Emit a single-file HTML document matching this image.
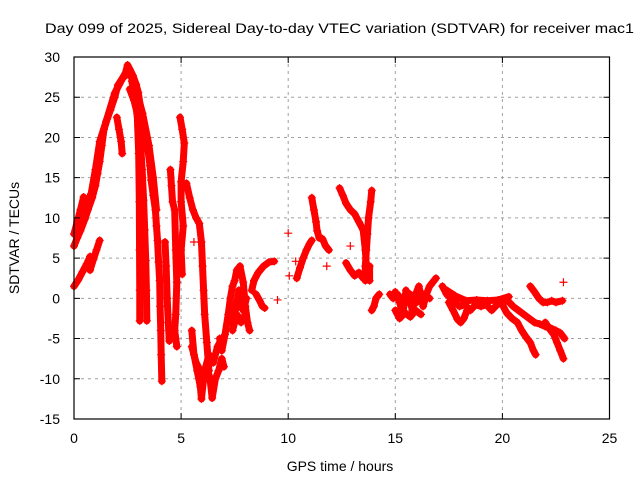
<!DOCTYPE html>
<html><head><meta charset="utf-8"><style>
html,body{margin:0;padding:0;background:#fff;}
svg{display:block;font-family:"Liberation Sans",sans-serif;}
</style></head><body>
<svg id="chart" width="640" height="480" viewBox="0 0 640 480" xmlns="http://www.w3.org/2000/svg">
<rect x="0" y="0" width="640" height="480" fill="#fff"/>
<text x="45" y="33" font-size="14" fill="#000" textLength="589" lengthAdjust="spacingAndGlyphs">Day 099 of 2025, Sidereal Day-to-day VTEC variation (SDTVAR) for receiver mac1</text>
<g id="grid"></g>
<g id="series"></g>
<g id="axes"></g>
<text x="340" y="471" font-size="14" text-anchor="middle">GPS time / hours</text>
<text transform="translate(19,238) rotate(-90)" font-size="14" text-anchor="middle">SDTVAR / TECUs</text>
</svg>
<script>
const xTicks = [0, 5, 10, 15, 20, 25];
const yTicks = [30, 25, 20, 15, 10, 5, 0, -5, -10, -15];
const xDomain = [0, 25];
const yDomain = [-15, 30];

const trackMainRise = [[0,6.5],[0.15,7.5],[0.3,8.4],[0.5,9.8],[0.65,11],[0.85,12.5],[1,14],[1.1,15.5],[1.2,17],[1.3,19],[1.4,21],[1.55,22.3],[1.7,23.4],[1.9,25],[2.05,26.5],[2.25,27.3],[2.4,28],[2.5,29],[2.6,28.5],[2.75,27.7],[2.9,26.6],[3,25.6],[3.1,23.8],[3.2,22],[3.3,20.2],[3.45,18.4],[3.55,16.5],[3.6,14.7],[3.7,12.8],[3.8,11],[3.85,9],[3.9,7.2],[3.95,4.5],[4,2.2],[4.02,-1],[4.05,-4],[4.07,-7],[4.1,-10.3]];
const trackMainRise2 = [[0.1,8],[0.4,10.5],[0.8,13],[1.0,16],[1.2,19.5],[1.5,22],[1.9,25.5],[2.3,27.5],[2.6,28],[2.9,26],[3.2,23],[3.5,19],[3.7,15],[3.85,11]];
const trackFall2 = [[2.7,27],[2.9,24],[3.0,21.5],[3.1,19.6],[3.18,16],[3.25,12.2],[3.3,8.5],[3.35,4.7],[3.38,1],[3.4,-2.8]];
const trackFall3 = [[2.6,26],[2.8,24.6],[2.95,23],[3.02,18],[3.05,12],[3.06,6],[3.07,1],[3.07,-2.8]];
const trackSide = [[2.0,22.5],[2.1,21],[2.2,19.5],[2.25,18]];
const trackLowLeft1 = [[0,1.5],[0.2,2.3],[0.4,3.3],[0.6,4.3],[0.75,5.2]];
const trackLowLeft2 = [[0.75,3.5],[0.9,4.8],[1.05,6],[1.2,7.2]];
const trackUpLeft = [[0,8],[0.15,9.5],[0.3,11],[0.45,12.6]];
const trackMid1 = [[4.25,7],[4.3,4],[4.35,0],[4.4,-3],[4.45,-5.3]];
const trackMid2 = [[4.5,16],[4.55,14],[4.6,12],[4.7,11],[4.75,6],[4.8,2],[4.75,-2],[4.7,-4],[4.8,-6]];
const trackMid3 = [[4.95,22.5],[5.05,21],[5.15,19.3],[5.1,17],[5.0,14.5],[5.0,12],[5.1,9],[5.0,6],[5.05,3]];
const trackMid4 = [[5.25,14.3],[5.4,12.5],[5.55,11],[5.7,10],[5.85,9.3],[5.95,7],[6.0,4],[6.05,1],[6.1,-2],[6.2,-5.5],[6.3,-9]];
const trackBottom = [[5.5,-4],[5.6,-7],[5.75,-9],[5.9,-11],[5.95,-12.5],[6.05,-10],[6.2,-8.5],[6.35,-10],[6.45,-12.4],[6.6,-10],[6.75,-9],[6.9,-7.5],[7.0,-8.5]];
const trackBottom2 = [[5.5,-6],[5.7,-8],[5.9,-9],[6.1,-9],[6.3,-7],[6.5,-8],[6.7,-6],[6.9,-5]];
const trackRise7 = [[6.8,-5],[6.9,-6.5],[7.05,-4.5],[7.2,-2],[7.3,0],[7.4,1.5],[7.5,2.2],[7.6,3.5],[7.75,4],[7.9,2],[8.0,-1],[8.1,-3],[8.2,-4]];
const trackRise8 = [[7.3,-3],[7.5,-1],[7.7,-0.5],[7.9,-1.5],[8.05,0]];
const trackCluster8 = [[7.4,-4],[7.6,-2],[7.8,-3],[8.0,-2],[7.7,1],[7.5,-2]];
const trackT9 = [[8.3,1],[8.4,2.2],[8.6,3.2],[8.85,4],[9.1,4.5],[9.35,4.6]];
const trackT9b = [[8.5,0.5],[8.65,-0.2],[8.8,-1],[8.9,-1.2]];
const trackT10 = [[10.4,2.5],[10.55,3.8],[10.7,5],[10.85,6],[11.0,6.8],[11.1,7.2]];
const trackT11 = [[11.1,12.5],[11.2,11],[11.3,9.5],[11.35,8.4],[11.45,7.5],[11.6,7.4],[11.75,6.5],[11.9,6]];
const trackT12 = [[12.4,13.7],[12.55,12.8],[12.7,11.8],[12.9,11],[13.1,10.5],[13.3,9.5],[13.5,8.5],[13.6,6],[13.65,4]];
const trackT12low = [[12.7,4.4],[12.9,3.5],[13.1,2.8],[13.3,3.2],[13.5,2.5],[13.8,2.2],[13.8,4]];
const trackT13col = [[13.9,13.4],[13.85,12],[13.75,10],[13.7,8],[13.65,6],[13.6,4],[13.6,2.2]];
const trackT14 = [[13.9,-1.5],[14.0,-1],[14.1,0],[14.25,0.5]];
const trackT15 = [[14.75,0.5],[14.9,0],[15.0,0.8],[15.2,-0.5],[15.35,-2],[15.5,1],[15.65,0],[15.8,-1.5],[15.95,0.5],[16.1,1.5],[16.3,-1],[16.45,0.5],[16.6,1.5],[16.75,2],[16.9,2.5]];
const trackT15b = [[15.0,-1.5],[15.2,-2.5],[15.45,-1.8],[15.7,-2.3],[15.95,-1.5],[16.2,-2]];
const trackT15c = [[15.1,0.5],[15.4,-0.5],[15.7,0.5],[16.0,-0.5],[16.3,0.5],[16.6,0]];
const trackT17 = [[17.2,1.5],[17.4,0.5],[17.6,0],[17.8,-0.5],[18.0,-1],[18.25,-0.8],[18.5,-1.5],[18.75,-0.8],[19.0,-1],[19.25,-0.8],[19.5,-1.5],[19.75,-0.8],[20.0,-0.5],[20.25,-0.3],[20.5,-1],[20.75,-1.5],[21.0,-2],[21.25,-2.5],[21.5,-3],[21.75,-3.2],[22.0,-3.5],[22.25,-3.7],[22.5,-4],[22.7,-4.3],[22.9,-5]];
const trackT17b = [[17.4,1],[17.8,0.3],[18.3,-0.3],[18.8,-0.2],[19.3,-0.3],[19.8,-0.2],[20.3,0.2]];
const trackT17dip = [[17.5,-0.5],[17.7,-1.5],[17.9,-2.6],[18.05,-3],[18.2,-2.5],[18.35,-1.5]];
const trackT20low = [[20.0,-0.8],[20.2,-1.8],[20.45,-2.5],[20.7,-3],[20.9,-4],[21.1,-4.8],[21.3,-5.5],[21.45,-6.5],[21.55,-7]];
const trackT22low = [[22.0,-3],[22.2,-3.8],[22.4,-4.5],[22.55,-5.5],[22.7,-6.5],[22.85,-7.5]];
const trackT21up = [[21.3,1.5],[21.5,0.8],[21.7,0],[21.9,-0.5],[22.1,-0.5],[22.3,-0.3],[22.5,-0.5],[22.8,-0.3]];
const trackSinglets = [[10,8.1],[10.05,2.8],[10.35,4.6],[11.8,4],[12.9,6.5],[22.85,2],[9.5,-0.2],[5.6,7]];

const tracks = [trackMainRise,trackMainRise2,trackFall2,trackFall3,trackSide,trackLowLeft1,trackLowLeft2,trackUpLeft,trackMid1,trackMid2,trackMid3,trackMid4,trackBottom,trackBottom2,trackRise7,trackRise8,trackCluster8,trackT9,trackT9b,trackT10,trackT11,trackT12,trackT12low,trackT13col,trackT14,trackT15,trackT15b,trackT15c,trackT17,trackT17b,trackT17dip,trackT20low,trackT22low,trackT21up];

const L = 74, R = 609.5, T = 57, B = 419;
function xs(t){ return L + (t - xDomain[0]) / (xDomain[1] - xDomain[0]) * (R - L); }
function ys(v){ return B - (v - yDomain[0]) / (yDomain[1] - yDomain[0]) * (B - T); }
const NS = 'http://www.w3.org/2000/svg';
function mk(tag, attrs, parent){ const e = document.createElementNS(NS, tag); for (const k in attrs) e.setAttribute(k, attrs[k]); parent.appendChild(e); return e; }

const grid = document.getElementById('grid');
const axes = document.getElementById('axes');
const series = document.getElementById('series');

xTicks.forEach(t => {
  const x = xs(t);
  if (t > xDomain[0] && t < xDomain[1]) {
    const g = mk('line', {x1:x, y1:T, x2:x, y2:B, stroke:'#a0a0a0', 'stroke-dasharray':'3,4', 'stroke-width':1}, grid);
    
    
  }
  const tk = mk('path', {d:`M${x},${B}v-6M${x},${T}v6`, stroke:'#000', 'stroke-width':1}, axes);
  
  
  const lb = mk('text', {x:x, y:443, 'font-size':14, 'text-anchor':'middle'}, axes);
  lb.textContent = String(t);
  
  
});
yTicks.forEach(v => {
  const y = ys(v);
  if (v > yDomain[0] && v < yDomain[1]) {
    const g = mk('line', {x1:L, y1:y, x2:R, y2:y, stroke:'#a0a0a0', 'stroke-dasharray':'3,4', 'stroke-width':1}, grid);
    
    
  }
  const tk = mk('path', {d:`M${L},${y}h6M${R},${y}h-6`, stroke:'#000', 'stroke-width':1}, axes);
  
  
  const lb = mk('text', {x:60, y:y+5, 'font-size':14, 'text-anchor':'end'}, axes);
  lb.textContent = String(v);
  
  
});
const frame = mk('rect', {x:L, y:T, width:R-L, height:B-T, fill:'none', stroke:'#000', 'stroke-width':1.2}, axes);



tracks.forEach(tr => {
  const pl = mk('polyline', {points: tr.map(p => xs(p[0]) + ',' + ys(p[1])).join(' '), fill:'none', stroke:'#ff0000', 'stroke-width':7, 'stroke-linejoin':'round', 'stroke-linecap':'round'}, series);
  
  
});
tracks.concat([trackSinglets]).forEach(tr => {
  tr.forEach(p => {
    const x = xs(p[0]), y = ys(p[1]);
    const m = mk('path', {d:`M${x-4},${y}h8M${x},${y-4}v8`, stroke:'#ff0000', 'stroke-width':1.2}, series);
    
    
  });
});
</script>
</body></html>
